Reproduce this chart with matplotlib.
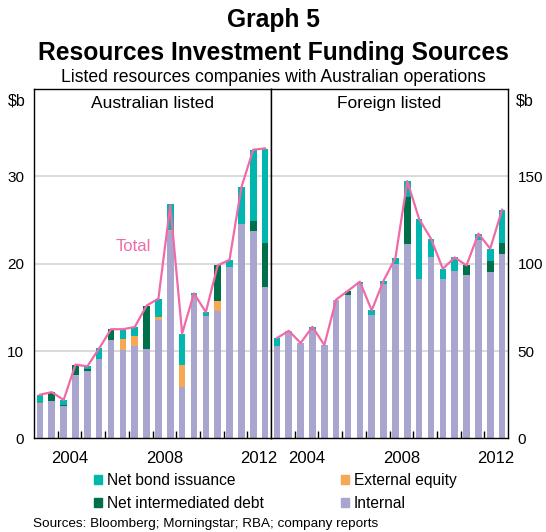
# -*- coding: utf-8 -*-
import numpy as np
import matplotlib
matplotlib.use('Agg')
import matplotlib.pyplot as plt
from matplotlib.patches import Patch

plt.rcParams['font.family'] = ['Liberation Sans', 'DejaVu Sans']

# %% Datos (semestrales, 2003 S1 .. 2012 S2)
periods = np.arange(2003.25, 2013.0, 0.5)

# Australian listed ($b)
au_internal = [3.9, 4.3, 3.7, 7.3, 7.7, 9.1, 11.3, 10.15, 10.6, 10.2,
               13.5, 23.7, 5.9, 16.4, 14.0, 14.6, 19.6, 24.5, 23.8, 17.3]
au_equity = [0.15, 0, 0, 0, 0, 0, 0, 1.25, 1.15, 0,
             0.45, 0.2, 2.55, 0, 0, 1.15, 0, 0, 0, 0]
au_debt = [0, 1.0, 0.1, 1.15, 0.25, 0, 1.2, 0, 0, 5.0,
           0, 0, 0, 0, 0, 4.05, 0, 0, 1.05, 5.05]
au_bond = [0.95, 0, 0.6, 0, 0.3, 1.2, 0, 1.1, 1.0, 0,
           2.05, 2.9, 3.55, 0.2, 0.45, 0, 0.85, 4.25, 8.2, 10.8]
au_total = [5.0, 5.3, 4.4, 8.45, 8.25, 10.3, 12.5, 12.5, 12.75, 15.2,
            16.0, 26.7, 12.0, 16.6, 14.45, 19.8, 20.45, 28.75, 33.05, 33.2]

# Foreign listed ($b)
fo_internal = [53.0, 61.6, 54.6, 62.2, 53.4, 79.5, 81.8, 88.1, 70.4, 88.5,
               100.0, 111.5, 91.4, 103.6, 91.4, 95.6, 93.7, 113.7, 95.2, 105.7]
fo_equity = [0] * 20
fo_debt = [0, 0, 0, 0, 0, 0, 2.7, 0, 0, 0,
           0, 26.5, 0, 0, 0, 0, 5.3, 0, 6.5, 6.2]
fo_bond = [4.4, 0, 0, 1.7, 0, 0, 0, 1.6, 2.9, 1.8,
           3.3, 9.5, 34.2, 10.7, 5.7, 8.0, 0, 3.5, 6.9, 19.0]
fo_total = [57.4, 61.6, 54.6, 63.9, 53.4, 79.5, 84.5, 89.7, 73.3, 90.3,
            103.3, 147.3, 125.6, 114.3, 97.1, 103.6, 99.0, 117.2, 108.6, 130.9]

year_labels = ['2004', '2008', '2012']

c_internal = '#A8A6CF'
c_equity = '#F7A852'
c_debt = '#00704A'
c_bond = '#00B6AE'
c_total = '#F06AA8'

# %% Grafico
fig = plt.figure(figsize=(5.46, 5.32), dpi=100)
W, H = 546, 532
left, right, mid = 34, 508, 271
top, bottom = 89, 438.4
axL = fig.add_axes([left / W, 1 - bottom / H, (mid - left) / W, (bottom - top) / H])
axR = fig.add_axes([mid / W, 1 - bottom / H, (right - mid) / W, (bottom - top) / H])


def draw_panel(ax, internal, equity, debt, bond, total, ymax, ystep, title):
    w = 0.28
    base = np.zeros(len(periods))
    for vals, col in [(internal, c_internal), (equity, c_equity),
                      (debt, c_debt), (bond, c_bond)]:
        vals = np.array(vals, dtype=float)
        ax.bar(periods, vals, w, bottom=base, color=col, zorder=2, linewidth=0)
        base = base + vals
    ax.plot(periods, total, color=c_total, lw=1.6, zorder=3)
    ax.set_xlim(2003, 2013)
    ax.set_ylim(0, ymax)
    ax.set_yticks(np.arange(0, ymax, ystep))
    for yv in np.arange(ystep, ymax, ystep):
        ax.axhline(yv, color='#D4D4D4', lw=1.2, zorder=1)
    ax.set_xticks(np.arange(2004, 2013, 1), minor=True)
    ax.set_xticks([2004.5, 2008.5, 2012.5])
    ax.set_xticklabels(year_labels, fontsize=12)
    ax.tick_params(axis='x', which='minor', direction='in', length=5, width=1, top=False)
    ax.tick_params(axis='x', which='major', length=0, pad=9)
    ax.tick_params(axis='y', length=0, labelsize=11, pad=7)
    for s in ax.spines.values():
        s.set_linewidth(1.0)
        s.set_color('black')
    ax.text(2008, 0.958 * ymax, title, ha='center', va='center', fontsize=12.5)


draw_panel(axL, au_internal, au_equity, au_debt, au_bond, au_total, 40, 10, 'Australian listed')
draw_panel(axR, fo_internal, fo_equity, fo_debt, fo_bond, fo_total, 200, 50, 'Foreign listed')
axR.yaxis.tick_right()
axR.tick_params(axis='y', length=0, labelsize=11, pad=7)

axL.text(2007.2, 21.96, 'Total', color=c_total, fontsize=12, ha='center', va='center')

fig.text(16.7 / W, 1 - 101 / H, '$b', ha='center', va='center', fontsize=11.5)
fig.text(525 / W, 1 - 101 / H, '$b', ha='center', va='center', fontsize=11.5)

fig.text(0.5, 1 - 27 / H, 'Graph 5', ha='center', va='baseline', fontsize=17.7, fontweight='bold')
fig.text(0.5, 1 - 60 / H, 'Resources Investment Funding Sources', ha='center', va='baseline',
         fontsize=17.7, fontweight='bold')
fig.text(0.5, 1 - 81.7 / H, 'Listed resources companies with Australian operations',
         ha='center', va='baseline', fontsize=12.7)

handles = [Patch(color=c_bond, label='Net bond issuance'),
           Patch(color=c_debt, label='Net intermediated debt'),
           Patch(color=c_equity, label='External equity'),
           Patch(color=c_internal, label='Internal')]
fig.legend(handles=handles, ncol=2, loc='upper left', bbox_to_anchor=(94 / W, 1 - 472.8 / H),
           frameon=False, fontsize=11.2, handlelength=0.52, handleheight=0.52,
           handletextpad=0.33, columnspacing=4.93, labelspacing=0.52, borderpad=0,
           borderaxespad=0)

fig.text(33 / W, 1 - 524 / H, 'Sources: Bloomberg; Morningstar; RBA; company reports',
         ha='left', va='center', fontsize=9.7)

fig.savefig('out.png', dpi=100)
